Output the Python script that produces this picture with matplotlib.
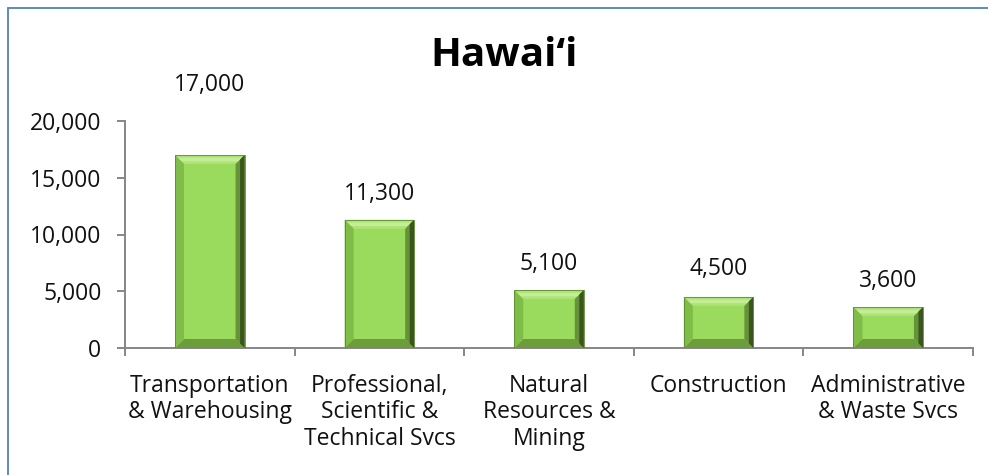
import matplotlib
matplotlib.use("Agg")
import matplotlib.pyplot as plt
from matplotlib.patches import Polygon, Rectangle
import numpy as np

# data
categories = ["Transportation\n& Warehousing",
              "Professional,\nScientific &\nTechnical Svcs",
              "Natural\nResources &\nMining",
              "Construction",
              "Administrative\n& Waste Svcs"]
values = [17000, 11300, 5100, 4500, 3600]
value_labels = ["17,000", "11,300", "5,100", "4,500", "3,600"]
y_ticks = [0, 5000, 10000, 15000, 20000]
y_tick_labels = ["0", "5,000", "10,000", "15,000", "20,000"]
title = "Hawai\u2018i"

plt.rcParams['font.family'] = ['Open Sans', 'DejaVu Sans']

W, H = 988, 475
fig = plt.figure(figsize=(W / 100, H / 100), dpi=100)
ax = fig.add_axes([125 / W, 1 - 348 / H, 848 / W, 227 / H])

x = np.arange(len(values))
face = "#9ADA5C"
bars = ax.bar(x, values, width=0.41, color=face, edgecolor="none", zorder=2)

ax.set_xlim(-0.5, len(values) - 0.5)
ax.set_ylim(0, 20000)

# bevel look on each bar, computed from the bar rectangles
p0 = ax.transData.transform((0, 0))
p1 = ax.transData.transform((1, 1000))
bev = 9
dx = bev / (p1[0] - p0[0])
dy = bev * 1000 / (p1[1] - p0[1])
for b in bars:
    x0, y0 = b.get_x(), b.get_y()
    x1, y1 = x0 + b.get_width(), y0 + b.get_height()
    top = [(x0, y1), (x1, y1), (x1 - dx, y1 - dy), (x0 + dx, y1 - dy)]
    top2 = [(x0 + dx * 0.3, y1 - dy * 0.3), (x1 - dx * 0.3, y1 - dy * 0.3),
            (x1 - dx * 0.7, y1 - dy * 0.7), (x0 + dx * 0.7, y1 - dy * 0.7)]
    bottom = [(x0, y0), (x1, y0), (x1 - dx, y0 + dy), (x0 + dx, y0 + dy)]
    left = [(x0, y0), (x0, y1), (x0 + dx, y1 - dy), (x0 + dx, y0 + dy)]
    right = [(x1, y0), (x1, y1), (x1 - dx, y1 - dy), (x1 - dx, y0 + dy)]
    right2 = [(x1, y0), (x1, y1), (x1 - dx * 0.5, y1 - dy * 0.5), (x1 - dx * 0.5, y0 + dy * 0.5)]
    for pts, col in [(top, "#ADE276"), (top2, "#C4EE95"), (bottom, "#6D9C3A"),
                     (left, "#80BC48"), (right, "#66933A"), (right2, "#3A561E")]:
        ax.add_patch(Polygon(pts, closed=True, facecolor=col, edgecolor="none", zorder=3))
    ax.add_patch(Rectangle((x0, y0), x1 - x0, y1 - y0, fill=False,
                           edgecolor="#5A8A2E", lw=0.6, zorder=4))

# value labels (the tallest one sits higher, as in the reference)
offsets_px = [70, 26, 26, 28, 26]
for xi, v, lab, off in zip(x, values, value_labels, offsets_px):
    ax.annotate(lab, (xi, v), xytext=(0, off * 0.72), textcoords="offset points",
                ha="center", va="center", fontsize=16.5, color="#111111")

ax.set_yticks(y_ticks)
ax.set_yticklabels(y_tick_labels)
ax.set_xticks(x)
ax.set_xticklabels(categories, linespacing=1.15)
ax.set_xticks(np.arange(-0.5, len(values), 1), minor=True)

spine_col = "#868686"
for s in ["top", "right"]:
    ax.spines[s].set_visible(False)
for s in ["left", "bottom"]:
    ax.spines[s].set_color(spine_col)
    ax.spines[s].set_linewidth(1.4)

ax.tick_params(axis="y", length=6, width=1.4, color=spine_col, pad=11,
               labelsize=16.5, labelcolor="#111111")
ax.tick_params(axis="x", which="major", length=0, pad=18.5,
               labelsize=16.5, labelcolor="#111111")
ax.tick_params(axis="x", which="minor", length=6, width=1.4, color=spine_col)

fig.text(504 / W, 1 - 56 / H, title, ha="center", va="center",
         fontsize=29, fontweight="bold", color="black")

# chart frame (only left/top visible in the crop)
fig.patches.append(Rectangle((8 / W, -0.1), 1.2, 1.1 - 8 / H,
                             transform=fig.transFigure, fill=False,
                             edgecolor="#4F81BD", lw=1.3))

fig.savefig("out.png", dpi=100)
